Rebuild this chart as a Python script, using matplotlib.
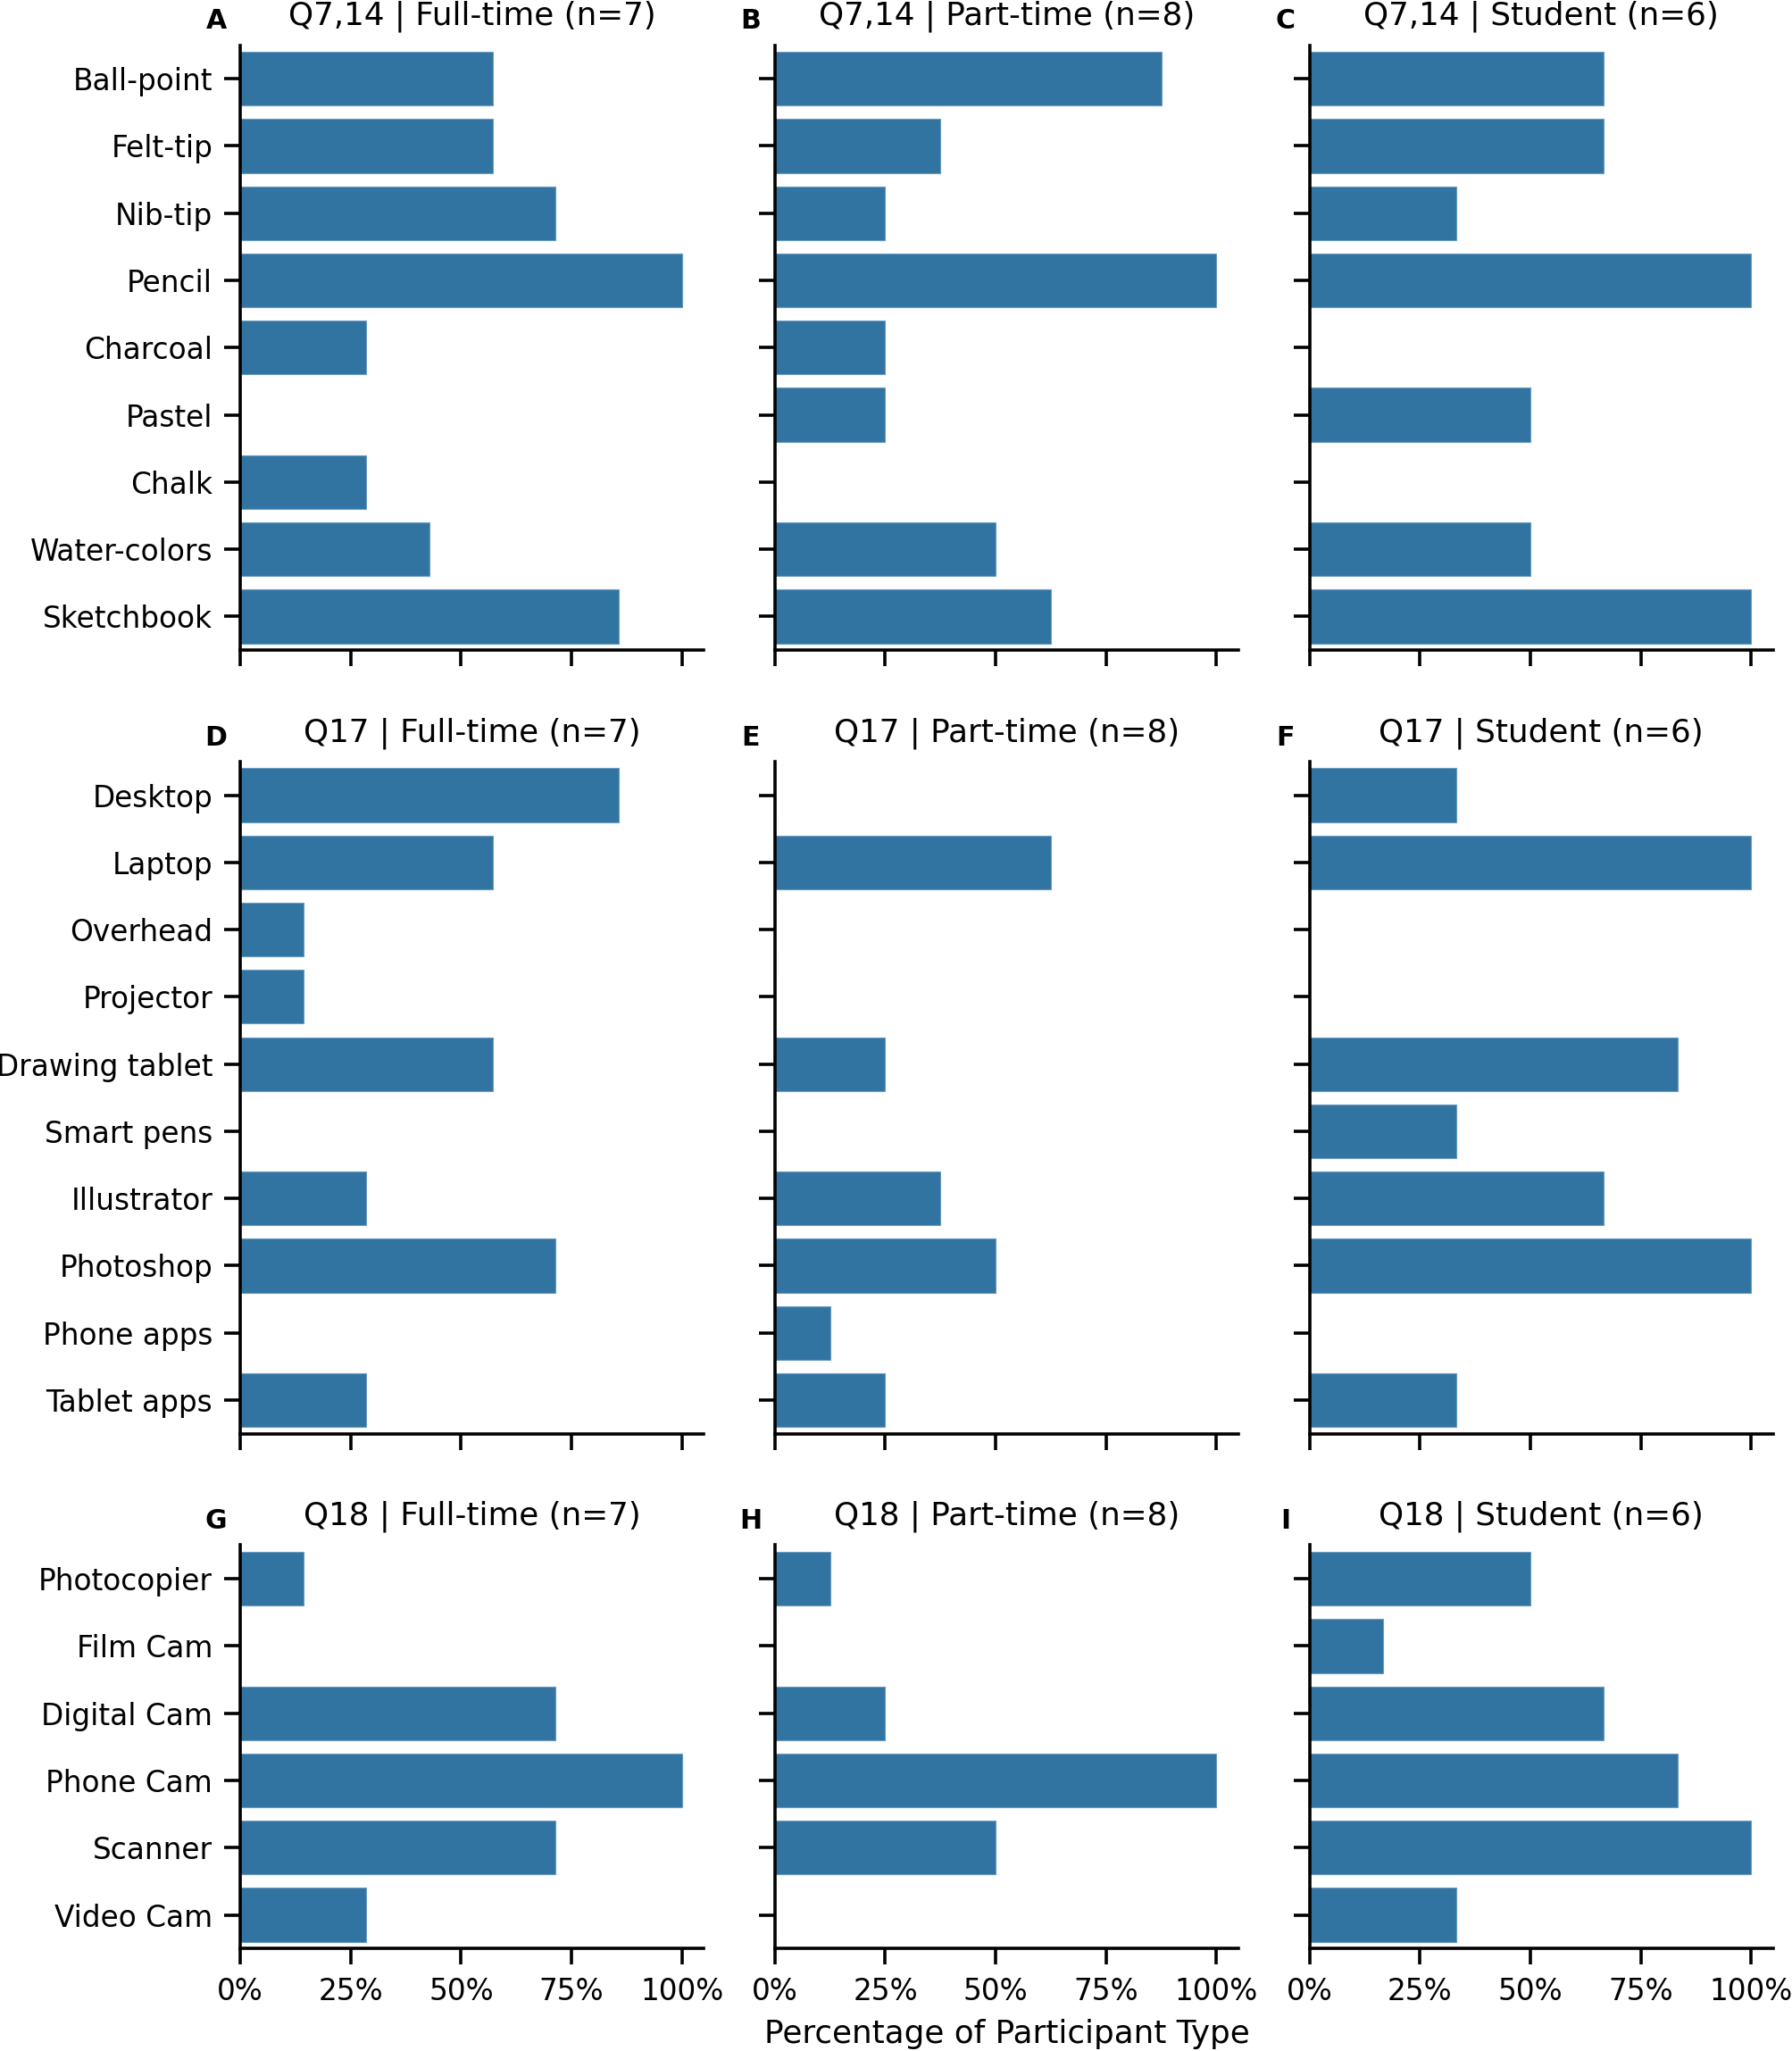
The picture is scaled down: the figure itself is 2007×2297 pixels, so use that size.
import matplotlib
matplotlib.use("Agg")
import matplotlib.pyplot as plt
from matplotlib.ticker import PercentFormatter


GROUPS = ["Full-time", "Part-time", "Student"]
GROUP_N = [7, 8, 6]

# Q7,14 - traditional media
Q7_LABELS = ["Ball-point", "Felt-tip", "Nib-tip", "Pencil", "Charcoal",
             "Pastel", "Chalk", "Water-colors", "Sketchbook"]
Q7_FULLTIME = [4, 4, 5, 7, 2, 0, 2, 3, 6]
Q7_PARTTIME = [7, 3, 2, 8, 2, 2, 0, 4, 5]
Q7_STUDENT = [4, 4, 2, 6, 0, 3, 0, 3, 6]

# Q17 - digital tools
Q17_LABELS = ["Desktop", "Laptop", "Overhead", "Projector", "Drawing tablet",
              "Smart pens", "Illustrator", "Photoshop", "Phone apps", "Tablet apps"]
Q17_FULLTIME = [6, 4, 1, 1, 4, 0, 2, 5, 0, 2]
Q17_PARTTIME = [0, 5, 0, 0, 2, 0, 3, 4, 1, 2]
Q17_STUDENT = [2, 6, 0, 0, 5, 2, 4, 6, 0, 2]

# Q18 - capture devices
Q18_LABELS = ["Photocopier", "Film Cam", "Digital Cam", "Phone Cam", "Scanner", "Video Cam"]
Q18_FULLTIME = [1, 0, 5, 7, 5, 2]
Q18_PARTTIME = [1, 0, 2, 8, 4, 0]
Q18_STUDENT = [3, 1, 4, 5, 6, 2]

QUESTIONS = ["Q7,14", "Q17", "Q18"]
LETTERS = "ABCDEFGHI"
BAR_COLOR = "#3274a1"

plt.rcParams.update({
    "font.family": "DejaVu Sans",
    "axes.linewidth": 1.3,
    "xtick.major.width": 1.3,
    "ytick.major.width": 1.3,
    "xtick.major.size": 6.5,
    "ytick.major.size": 6.5,
    "xtick.major.pad": 5.0,
    "ytick.major.pad": 4.6,
    "xtick.labelsize": 11.8,
    "ytick.labelsize": 11.8,
})


def draw_panel(ax, labels, counts, n, title, letter, show_ylabels, show_xlabels):
    fracs = [c / n for c in counts]
    pos = list(range(len(labels)))
    ax.barh(pos, fracs, height=0.8, color=BAR_COLOR, edgecolor="#6a9cc2", linewidth=0.4)
    ax.set_ylim(len(labels) - 0.5, -0.5)
    ax.set_xlim(0, 1.05)
    ax.set_yticks(pos)
    ax.set_yticklabels(labels if show_ylabels else [])
    ax.set_xticks([0, 0.25, 0.5, 0.75, 1.0])
    ax.xaxis.set_major_formatter(PercentFormatter(1, decimals=0))
    if not show_xlabels:
        ax.set_xticklabels([])
    ax.spines["top"].set_visible(False)
    ax.spines["right"].set_visible(False)
    ax.set_title(title, fontsize=12.9, pad=8.2)
    ax.annotate(letter, xy=(0, 1), xycoords="axes fraction",
                xytext=(-9.7, 6.6), textcoords="offset points",
                ha="center", va="baseline", fontsize=10.8, fontweight="bold")


def main():
    fig, axes = plt.subplots(
        3, 3, figsize=(10.04, 11.485), dpi=200,
        gridspec_kw={"height_ratios": [9, 10, 6]},
    )
    fig.subplots_adjust(left=0.134, right=0.989, top=0.978, bottom=0.050,
                        wspace=0.153, hspace=0.199)

    rows = [
        (Q7_LABELS, [Q7_FULLTIME, Q7_PARTTIME, Q7_STUDENT]),
        (Q17_LABELS, [Q17_FULLTIME, Q17_PARTTIME, Q17_STUDENT]),
        (Q18_LABELS, [Q18_FULLTIME, Q18_PARTTIME, Q18_STUDENT]),
    ]

    k = 0
    for r, (labels, series) in enumerate(rows):
        for c, counts in enumerate(series):
            ax = axes[r, c]
            title = f"{QUESTIONS[r]} | {GROUPS[c]} (n={GROUP_N[c]})"
            draw_panel(ax, labels, counts, GROUP_N[c], title, LETTERS[k],
                       show_ylabels=(c == 0), show_xlabels=(r == 2))
            k += 1

    axes[2, 1].set_xlabel("Percentage of Participant Type", fontsize=12.9, labelpad=5)

    fig.savefig("out.png", dpi=200)
    plt.close(fig)


if __name__ == "__main__":
    main()
